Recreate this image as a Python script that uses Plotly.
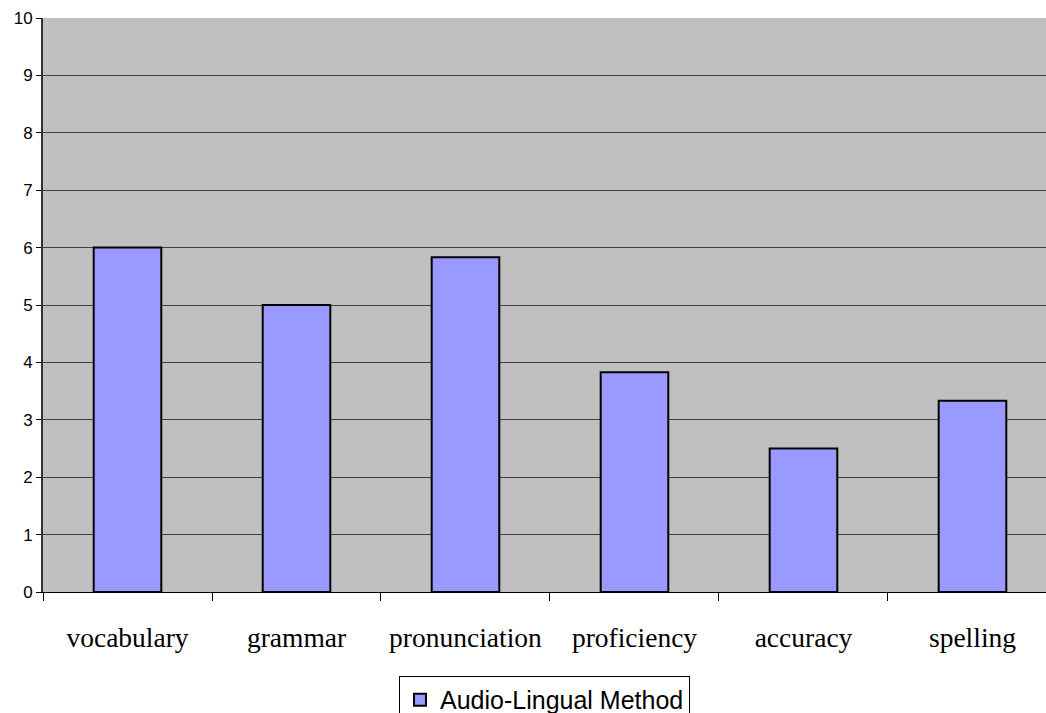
import plotly.graph_objects as go

categories = ["vocabulary", "grammar", "pronunciation", "proficiency", "accuracy", "spelling"]
scores = [6.0, 5.0, 5.83, 3.83, 2.5, 3.33]
series_name = "Audio-Lingual Method"
y_ticks = list(range(0, 11))

fig = go.Figure()
fig.add_trace(go.Bar(
    x=categories,
    y=scores,
    name=series_name,
    width=0.4,
    marker=dict(color="#9999FF", line=dict(color="#000000", width=2)),
    showlegend=True,
))

fig.update_layout(
    width=1046,
    height=713,
    margin=dict(l=43, r=0, t=18, b=121, autoexpand=False),
    paper_bgcolor="#FFFFFF",
    plot_bgcolor="#C0C0C0",
    showlegend=True,
    legend=dict(
        x=0.5, xanchor="center",
        y=-0.1463, yanchor="top",
        orientation="h",
        bordercolor="#000000", borderwidth=1,
        bgcolor="#FFFFFF",
        font=dict(family="Liberation Sans, Arial", size=25, color="#000000"),
    ),
)

fig.update_xaxes(
    range=[-0.5, 5.435],
    tickson="boundaries",
    ticks="outside",
    ticklen=8,
    tickcolor="#000000",
    ticklabelstandoff=21,
    showline=True,
    linecolor="#000000",
    linewidth=1,
    showgrid=False,
    automargin=False,
    tickfont=dict(family="Liberation Serif, Times New Roman", size=27.5, color="#000000"),
)

fig.update_yaxes(
    range=[0, 10],
    tickvals=y_ticks,
    ticks="outside",
    ticklen=5,
    tickcolor="#000000",
    showline=True,
    linecolor="#333333",
    linewidth=2,
    showgrid=True,
    gridcolor="#404040",
    gridwidth=1,
    zeroline=False,
    automargin=False,
    tickfont=dict(family="Liberation Sans, Arial", size=17, color="#000000"),
)

fig.write_html("out.html")
